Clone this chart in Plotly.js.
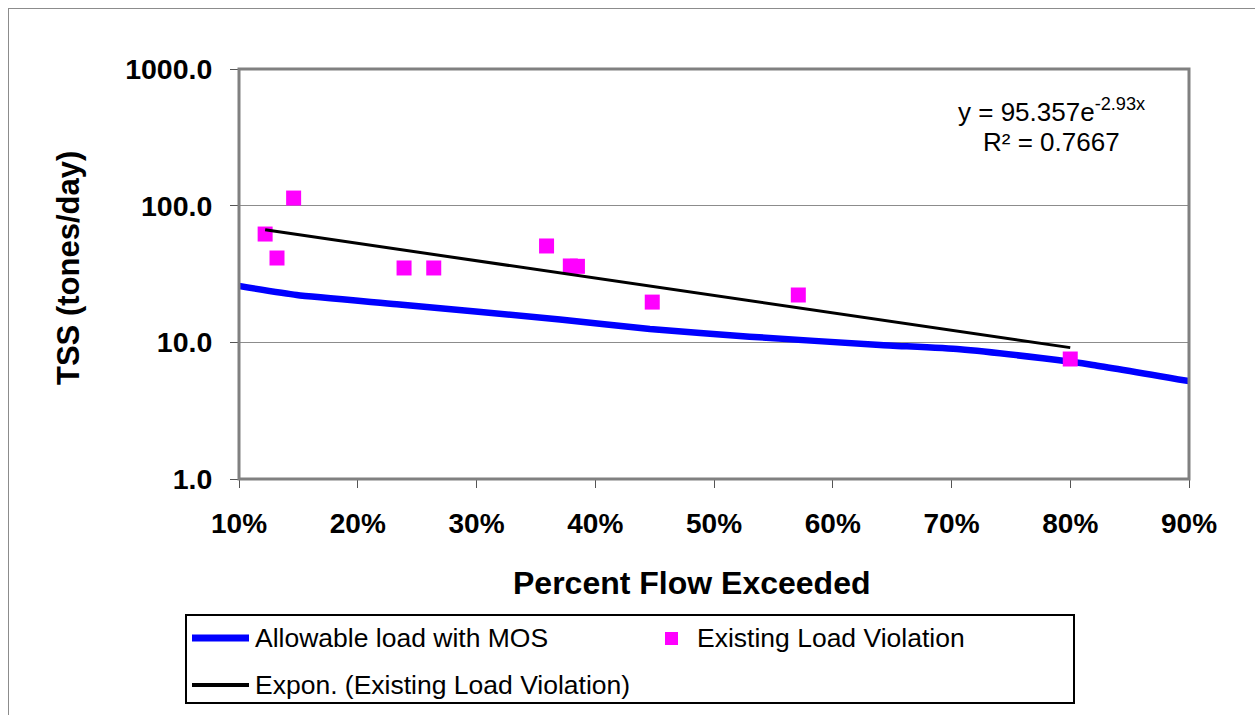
<!DOCTYPE html>
<html>
<head>
<meta charset="utf-8">
<script src="https://cdn.plot.ly/plotly-3.0.1.min.js"></script>
<style>
  html, body { margin: 0; padding: 0; background: #fff; }
  #wrap { position: relative; width: 1255px; height: 715px; overflow: hidden; }
  #frame { position: absolute; left: 8px; top: 8px; width: 1400px; height: 900px;
           border-left: 1px solid #8c8c8c; border-top: 1px solid #8c8c8c; pointer-events: none; z-index: 5; }
  #chart { position: absolute; left: 0; top: 0; width: 1255px; height: 715px; }
</style>
</head>
<body>
<div id="wrap">
  <div id="chart"></div>
  <div id="frame"></div>
</div>
<script>
// Allowable load with MOS (percent flow exceeded as fraction, TSS tons/day)
const allowX = [0.10, 0.1486, 0.2328, 0.3703, 0.446, 0.530, 0.6398, 0.707, 0.777, 0.819, 0.90];
const allowY = [25.8, 22.2, 19.0, 14.7, 12.5, 11.0, 9.57, 8.9, 7.64, 6.83, 5.2];

// Existing load violations
const violX = [0.122, 0.132, 0.146, 0.239, 0.264, 0.359, 0.379, 0.385, 0.448, 0.571, 0.800];
const violY = [62, 41.4, 113.7, 35, 35, 50.7, 36.2, 36, 19.7, 22.2, 7.55];

// Exponential trendline of violations (endpoints)
const trendX = [0.122, 0.800];
const trendY = [66.6, 9.15];

const yTicks = [1, 10, 100, 1000];
const yTickText = ['1.0', '10.0', '100.0', '1000.0'];
const xTicks = [0.1, 0.2, 0.3, 0.4, 0.5, 0.6, 0.7, 0.8, 0.9];
const xTickText = ['10%', '20%', '30%', '40%', '50%', '60%', '70%', '80%', '90%'];

const seriesNames = ['Allowable load with MOS', 'Existing Load Violation', 'Expon. (Existing Load Violation)'];
const seriesColors = ['#0000FF', '#FF00FF', '#000000'];

const FONT = 'Liberation Sans, Arial, sans-serif';

const traces = [
  { x: allowX, y: allowY, name: seriesNames[0], mode: 'lines',
    line: { color: seriesColors[0], width: 6.5, shape: 'spline', smoothing: 0.5 } },
  { x: violX, y: violY, name: seriesNames[1], mode: 'markers',
    marker: { symbol: 'square', size: 15, color: seriesColors[1] } },
  { x: trendX, y: trendY, name: seriesNames[2], mode: 'lines',
    line: { color: seriesColors[2], width: 3 } }
];

// pixel -> paper helpers for the hand-drawn legend (plot area 239..1189 x 69..479)
const PX = p => (p - 239) / 950;
const PY = p => (479 - p) / 410;

const legendShapes = [
  { type: 'rect', xref: 'paper', yref: 'paper', x0: PX(186), x1: PX(1074), y0: PY(615), y1: PY(703),
    line: { color: '#000', width: 2 }, fillcolor: '#fff', layer: 'above' },
  { type: 'line', xref: 'paper', yref: 'paper', x0: PX(192), x1: PX(249), y0: PY(638), y1: PY(638),
    line: { color: seriesColors[0], width: 7 }, layer: 'above' },
  { type: 'rect', xref: 'paper', yref: 'paper', x0: PX(665), x1: PX(678), y0: PY(632), y1: PY(645),
    line: { width: 0 }, fillcolor: seriesColors[1], layer: 'above' },
  { type: 'line', xref: 'paper', yref: 'paper', x0: PX(192), x1: PX(249), y0: PY(685), y1: PY(685),
    line: { color: seriesColors[2], width: 4 }, layer: 'above' }
];

const legendTexts = [
  { xref: 'paper', yref: 'paper', x: PX(253), y: PY(638), text: seriesNames[0],
    showarrow: false, xanchor: 'left', yanchor: 'middle', font: { family: FONT, size: 26.5 } },
  { xref: 'paper', yref: 'paper', x: PX(695), y: PY(638), text: seriesNames[1],
    showarrow: false, xanchor: 'left', yanchor: 'middle', font: { family: FONT, size: 26.5 } },
  { xref: 'paper', yref: 'paper', x: PX(253), y: PY(685), text: seriesNames[2],
    showarrow: false, xanchor: 'left', yanchor: 'middle', font: { family: FONT, size: 26.5 } }
];

const layout = {
  width: 1255, height: 715,
  margin: { l: 239, r: 66, t: 69, b: 236 },
  paper_bgcolor: '#ffffff', plot_bgcolor: '#ffffff',
  font: { family: FONT, color: '#000', size: 22 },
  showlegend: false,
  xaxis: {
    range: [0.1, 0.9], tickvals: xTicks, ticktext: xTickText,
    showgrid: false, zeroline: false,
    ticks: 'outside', ticklen: 8, tickcolor: '#555', tickwidth: 1,
    tickfont: { family: FONT, size: 28, color: '#000', weight: 'bold' },
    ticklabelstandoff: 11,
    showline: false
  },
  yaxis: {
    type: 'log', range: [0, 3], tickvals: yTicks, ticktext: yTickText,
    showgrid: true, gridcolor: '#8c8c8c', gridwidth: 1, zeroline: false,
    ticks: 'outside', ticklen: 8, tickcolor: '#555', tickwidth: 1,
    tickfont: { family: FONT, size: 28.5, color: '#000', weight: 'bold' },
    ticklabelstandoff: 12,
    showline: false
  },
  shapes: [
    { type: 'rect', xref: 'paper', yref: 'paper', x0: 0, x1: 1, y0: 0, y1: 1,
      line: { color: '#808080', width: 3 }, layer: 'above' }
  ].concat(legendShapes),
  annotations: [
    { xref: 'paper', yref: 'paper', x: PX(68), y: PY(268), text: '<b>TSS (tones/day)</b>',
      textangle: -90, showarrow: false, font: { family: FONT, size: 31 }, xanchor: 'center', yanchor: 'middle' },
    { xref: 'paper', yref: 'paper', x: PX(691), y: PY(583), text: '<b>Percent Flow Exceeded</b>',
      showarrow: false, font: { family: FONT, size: 32 }, xanchor: 'center', yanchor: 'middle' },
    { xref: 'paper', yref: 'paper', x: PX(1051), y: PY(110), text: 'y = 95.357e<sup>-2.93x</sup>',
      showarrow: false, font: { family: FONT, size: 26 }, xanchor: 'center', yanchor: 'middle' },
    { xref: 'paper', yref: 'paper', x: PX(1051), y: PY(142), text: 'R² = 0.7667',
      showarrow: false, font: { family: FONT, size: 26 }, xanchor: 'center', yanchor: 'middle' }
  ].concat(legendTexts)
};

Plotly.newPlot('chart', traces, layout, { displayModeBar: false, staticPlot: true });
</script>
</body>
</html>
